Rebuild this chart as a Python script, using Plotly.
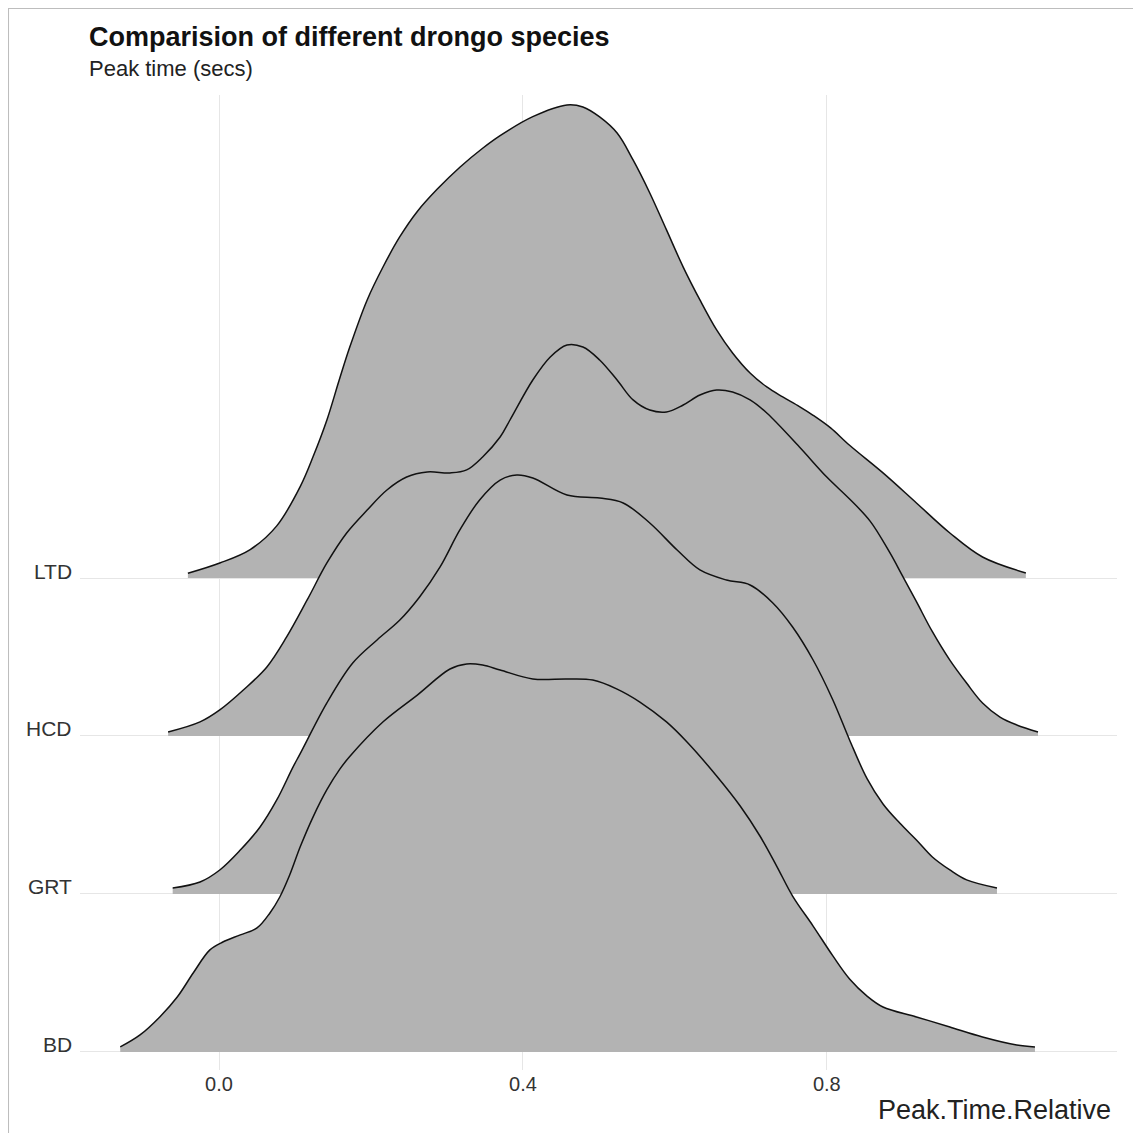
import plotly.graph_objects as go

# ---------------- data ----------------
species = ["BD", "GRT", "HCD", "LTD"]          # bottom -> top
x_ticks = [0.0, 0.4, 0.8]
x_tick_labels = ["0.0", "0.4", "0.8"]

ltd_x = [-0.041, 0.001, 0.041, 0.076, 0.107, 0.124, 0.142, 0.158, 0.172, 0.195, 0.216, 0.238,
         0.261, 0.287, 0.317, 0.347, 0.370, 0.413, 0.458, 0.479, 0.501, 0.524, 0.545,
         0.567, 0.589, 0.611, 0.633, 0.655, 0.676, 0.699, 0.721, 0.742, 0.764, 0.782,
         0.805, 0.830, 0.874, 0.918, 0.962, 1.005, 1.062]
ltd_h = [0.03, 0.095, 0.18, 0.33, 0.58, 0.77, 1.0, 1.25, 1.46, 1.76, 1.97, 2.16,
         2.32, 2.46, 2.60, 2.72, 2.80, 2.92, 2.994, 2.981, 2.918, 2.816, 2.646,
         2.437, 2.203, 1.968, 1.76, 1.57, 1.424, 1.297, 1.209, 1.146, 1.085, 1.03,
         0.95, 0.84, 0.665, 0.475, 0.285, 0.133, 0.032]

hcd_x = [-0.067, -0.025, 0.001, 0.032, 0.063, 0.089, 0.116, 0.142, 0.168, 0.195, 0.221,
         0.247, 0.274, 0.304, 0.326, 0.347, 0.370, 0.383, 0.413, 0.436, 0.458, 0.479,
         0.501, 0.524, 0.545, 0.567, 0.589, 0.611, 0.633, 0.655, 0.676, 0.699, 0.721,
         0.764, 0.800, 0.830, 0.857, 0.883, 0.900, 0.918, 0.939, 0.962, 0.984, 1.005,
         1.028, 1.050, 1.078]
hcd_h = [0.025, 0.089, 0.165, 0.291, 0.437, 0.627, 0.861, 1.095, 1.285, 1.43, 1.557,
         1.639, 1.671, 1.665, 1.684, 1.766, 1.892, 2.0, 2.253, 2.399, 2.475, 2.462,
         2.38, 2.253, 2.127, 2.063, 2.051, 2.095, 2.158, 2.19, 2.177, 2.127, 2.044,
         1.829, 1.639, 1.50, 1.36, 1.16, 1.01, 0.85, 0.66, 0.48, 0.335, 0.209,
         0.120, 0.070, 0.025]

grt_x = [-0.061, -0.025, 0.001, 0.028, 0.054, 0.076, 0.097, 0.107, 0.142, 0.176, 0.208,
         0.238, 0.264, 0.291, 0.317, 0.343, 0.370, 0.392, 0.413, 0.458, 0.501, 0.532,
         0.567, 0.603, 0.633, 0.668, 0.699, 0.729, 0.755, 0.782, 0.808, 0.830, 0.853,
         0.874, 0.896, 0.918, 0.939, 0.962, 0.984, 1.024]
grt_h = [0.038, 0.076, 0.152, 0.278, 0.424, 0.595, 0.80, 0.89, 1.21, 1.462, 1.608,
         1.734, 1.88, 2.07, 2.304, 2.494, 2.62, 2.652, 2.633, 2.525, 2.506, 2.475,
         2.348, 2.177, 2.051, 1.987, 1.956, 1.842, 1.690, 1.481, 1.228, 0.975, 0.73,
         0.57, 0.449, 0.342, 0.234, 0.152, 0.089, 0.038]

bd_x = [-0.130, -0.104, -0.078, -0.055, -0.034, -0.012, 0.005, 0.028, 0.050, 0.067, 0.080,
        0.093, 0.107, 0.124, 0.142, 0.159, 0.172, 0.216, 0.261, 0.304, 0.326, 0.347,
        0.370, 0.413, 0.458, 0.492, 0.524, 0.554, 0.589, 0.616, 0.655, 0.686, 0.712,
        0.734, 0.755, 0.782, 0.808, 0.830, 0.853, 0.874, 0.918, 0.962, 1.005, 1.050, 1.074]
bd_h = [0.032, 0.108, 0.222, 0.348, 0.500, 0.646, 0.696, 0.741, 0.785, 0.880, 0.981,
        1.12, 1.30, 1.49, 1.66, 1.79, 1.87, 2.09, 2.259, 2.424, 2.456, 2.449,
        2.418, 2.361, 2.361, 2.354, 2.297, 2.215, 2.089, 1.962, 1.747, 1.557, 1.367,
        1.177, 0.987, 0.797, 0.608, 0.462, 0.354, 0.285, 0.222, 0.158, 0.095, 0.044, 0.032]

series = {"BD": (bd_x, bd_h), "GRT": (grt_x, grt_h), "HCD": (hcd_x, hcd_h), "LTD": (ltd_x, ltd_h)}

FONT = "Liberation Sans, Arial, sans-serif"
FILL = "#b3b3b3"

fig = go.Figure()

# draw from the top ridge down so lower ridges overlay upper ones
for name in reversed(species):
    base = species.index(name)
    xs, hs = series[name]
    fig.add_trace(go.Scatter(x=[xs[0], xs[-1]], y=[base, base], mode="lines",
                             line=dict(width=0, color=FILL), hoverinfo="skip",
                             showlegend=False))
    fig.add_trace(go.Scatter(x=xs, y=[base + h for h in hs], mode="lines",
                             line=dict(color="#111111", width=1.5, shape="spline", smoothing=1.0),
                             fill="tonexty", fillcolor=FILL, name=name, showlegend=False))

annotations = [
    dict(text="<b>Comparision of different drongo species</b>", xref="paper", yref="paper",
         x=0.0068, y=1.0595, xanchor="left", yanchor="middle", showarrow=False,
         font=dict(family=FONT, size=27, color="#111111")),
    dict(text="Peak time (secs)", xref="paper", yref="paper",
         x=0.0068, y=1.0267, xanchor="left", yanchor="middle", showarrow=False,
         font=dict(family=FONT, size=22, color="#222222")),
    dict(text="Peak.Time.Relative", xref="paper", yref="paper",
         x=0.996, y=-0.041, xanchor="right", yanchor="middle", showarrow=False,
         font=dict(family=FONT, size=27, color="#222222")),
]
for i, name in enumerate(species):
    annotations.append(dict(text=name, xref="paper", yref="y", x=-0.006, y=i, yshift=7,
                            xanchor="right", yanchor="middle", showarrow=False,
                            font=dict(family=FONT, size=21, color="#333333")))

fig.update_layout(
    width=1133, height=1125,
    margin=dict(l=72, r=24, t=87, b=63),
    paper_bgcolor="white", plot_bgcolor="white",
    annotations=annotations,
    xaxis=dict(range=[-0.183, 1.182], tickvals=x_ticks, ticktext=x_tick_labels,
               showgrid=True, gridcolor="#e6e6e6", gridwidth=1, zeroline=False,
               showline=False, ticks="", tickfont=dict(family=FONT, size=20, color="#333333")),
    yaxis=dict(range=[-0.114, 6.057], tickvals=[0, 1, 2, 3], showticklabels=False,
               showgrid=True, gridcolor="#e6e6e6", gridwidth=1, zeroline=False,
               showline=False, ticks=""),
    shapes=[dict(type="rect", xref="paper", yref="paper", x0=-0.0694, x1=1.0212,
                 y0=-0.08, y1=1.0892, line=dict(color="#bdbdbd", width=2),
                 fillcolor="rgba(0,0,0,0)", layer="below")],
)

fig.write_html("out.html")
